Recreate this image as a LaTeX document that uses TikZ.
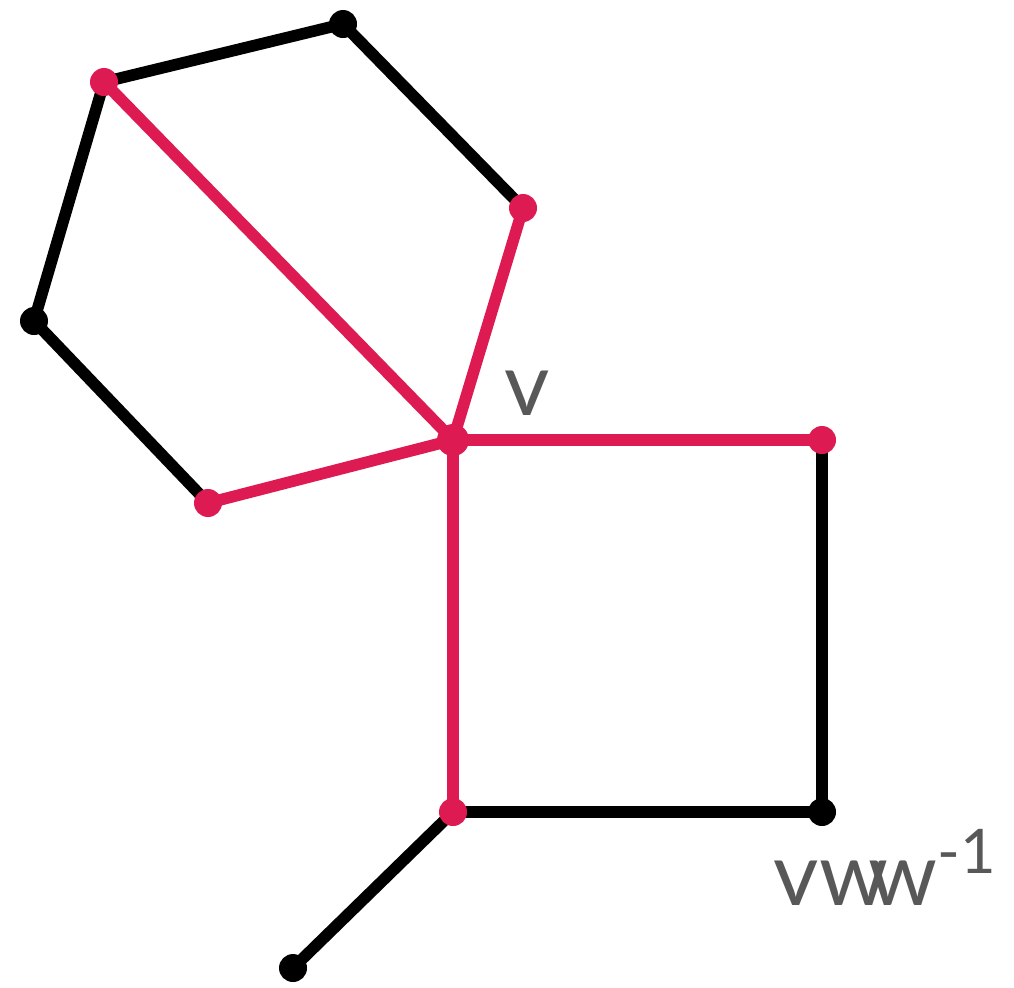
\documentclass[tikz,border=0pt]{standalone}
\usepackage{fontspec}
\usepackage{xcolor}
\usetikzlibrary{backgrounds}
\newfontfamily\lblfont{Lato}
\definecolor{cyclered}{RGB}{222,26,82}
\definecolor{lblgray}{RGB}{88,88,88}
\tikzset{
  dot/.style={circle, fill=black, inner sep=0pt, minimum size=0.28cm},
  rdot/.style={dot, fill=cyclered},
  edge/.style={line width=3.3pt, black},
  redge/.style={edge, cyclered},
  lbl/.style={font=\lblfont\fontsize{25}{25}\selectfont, text=lblgray, inner sep=0pt}
}

\begin{document}
\begin{tikzpicture}
      \useasboundingbox (0,0) rectangle (10.14,-9.87);
      \node [rdot] (A) at (1.04,-0.82) {};
      \node [dot] (B) at (3.43,-0.24) {};
      \node [rdot] (C) at (5.23,-2.08) {};
      \node [rdot, minimum size=0.32cm] (V) at (4.53,-4.40) {};
      \node [rdot] (E) at (2.08,-5.03) {};
      \node [dot] (F) at (0.34,-3.21) {};
      \node [rdot] (R) at (8.22,-4.40) {};
      \node [dot] (S) at (8.22,-8.12) {};
      \node [rdot] (Q) at (4.53,-8.12) {};
      \node [dot] (T) at (2.93,-9.68) {};
      \begin{scope}[on background layer]
        \draw [edge] (A.center) to (B.center) to (C.center);
        \draw [edge] (E.center) to (F.center) to (A.center);
        \draw [edge] (R.center) to (S.center) to (Q.center) to (T.center);
        \draw [redge] (C.center) to (V.center) to (E.center);
        \draw [redge] (A.center) to (V.center);
        \draw [redge] (R.center) to (V.center) to (Q.center);
      \end{scope}
      \node [lbl] (Lv) at (5.27,-3.93) {v};
      \node [lbl, anchor=base west] (Lw) at (7.73,-9.05) {vw\kern-.22em w\textsuperscript{-1}};
    \end{tikzpicture}
\end{document}
